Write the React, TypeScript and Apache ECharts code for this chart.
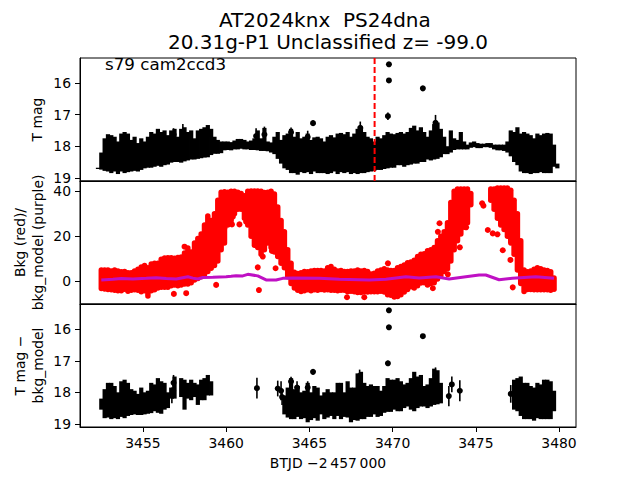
import React, { useEffect, useRef } from "react";
import * as echarts from "echarts";

const FONT = "'DejaVu Sans', sans-serif";

const titleText = "AT2024knx  PS24dna \n20.31g-P1 Unclassified z= -99.0";
const noteText = "s79 cam2ccd3";
const xTicks = [3455, 3460, 3465, 3470, 3475, 3480];
const magTicks = [16, 17, 18, 19];
const bkgTicks = [0, 20, 40];
const transientTime = 3468.92;

const times = [
  3452.3,3452.5,3452.7,3452.9,3453.1,3453.3,3453.5,3453.7,3453.9,3454.1,3454.3,3454.5,3454.7,3454.9,3455.1,3455.3,3455.5,3455.7,3455.9,3456.1,
  3456.3,3456.5,3456.7,3456.9,3457.1,3457.3,3457.5,3457.7,3457.9,3458.1,3458.3,3458.5,3458.7,3458.9,3459.1,3459.3,3459.5,3459.7,3459.9,3460.1,
  3460.3,3460.5,3460.7,3460.9,3461.1,3461.3,3461.5,3461.7,3461.9,3462.1,3462.3,3462.5,3462.7,3462.9,3463.1,3463.3,3463.5,3463.7,3463.9,3464.1,
  3464.3,3464.5,3464.7,3464.9,3465.1,3465.3,3465.5,3465.7,3465.9,3466.1,3466.3,3466.5,3466.7,3466.9,3467.1,3467.3,3467.5,3467.7,3467.9,3468.1,
  3468.3,3468.5,3468.7,3468.9,3469.1,3469.3,3469.5,3469.7,3469.9,3470.1,3470.3,3470.5,3470.7,3470.9,3471.1,3471.3,3471.5,3471.7,3471.9,3472.1,
  3472.3,3472.5,3472.7,3472.9,3473.1,3473.3,3473.5,3473.7,3473.9,3474.1,3474.3,3474.5,3474.7,3474.9,3475.1,3475.3,3475.5,3475.7,3475.9,3476.1,
  3476.3,3476.5,3476.7,3476.9,3477.1,3477.3,3477.5,3477.7,3477.9,3478.1,3478.3,3478.5,3478.7,3478.9,3479.1,3479.3,3479.5,3479.7,3479.9,
];

const rawBright = [
  18.68,18.2,17.75,17.62,17.65,17.7,17.85,17.6,17.55,17.6,17.8,17.7,17.9,17.75,17.85,17.7,17.55,17.6,17.45,17.55,
  17.5,17.65,17.5,17.45,17.7,17.45,17.4,17.55,17.5,17.75,17.5,17.45,17.4,17.33,17.45,17.7,17.8,17.85,17.85,17.85,
  17.87,17.82,17.77,17.77,17.8,17.85,17.82,17.75,17.5,17.75,17.42,17.85,17.88,17.7,17.55,17.8,17.65,17.6,17.45,17.7,
  17.55,17.75,17.7,17.6,17.8,17.72,17.7,17.75,17.85,17.7,17.65,17.72,17.6,17.58,17.62,17.55,17.7,17.6,17.45,17.4,
  17.55,17.7,17.75,17.85,17.7,17.75,17.65,17.55,17.6,17.62,17.58,17.55,17.6,17.55,17.42,17.35,17.5,17.4,17.55,17.7,
  17.5,17.3,17.25,17.45,17.7,18.0,17.5,17.75,17.8,17.55,17.85,17.95,17.88,17.85,17.9,17.92,17.92,17.9,17.9,17.95,
  17.95,17.95,17.95,17.85,17.5,17.55,17.4,17.6,17.55,17.6,17.65,17.75,17.6,17.65,17.6,17.58,17.6,17.95,18.55,
];
const rawFaint = [
  18.72,18.74,18.78,18.8,18.85,18.8,18.88,18.8,18.85,18.82,18.8,18.78,18.8,18.75,18.7,18.68,18.68,18.65,18.62,18.65,
  18.6,18.58,18.52,18.5,18.5,18.52,18.48,18.45,18.42,18.42,18.4,18.38,18.36,18.35,18.28,18.24,18.24,18.22,18.13,18.12,
  18.13,18.1,18.1,18.08,18.1,18.1,18.12,18.12,18.13,18.15,18.15,18.16,18.2,18.25,18.4,18.55,18.7,18.75,18.85,18.85,
  18.9,18.82,18.85,18.82,18.88,18.8,18.85,18.85,18.85,18.88,18.85,18.8,18.88,18.82,18.85,18.82,18.88,18.85,18.88,18.85,
  18.85,18.82,18.8,18.78,18.75,18.75,18.72,18.7,18.68,18.68,18.6,18.6,18.65,18.6,18.58,18.55,18.55,18.5,18.5,18.42,
  18.45,18.42,18.4,18.35,18.25,18.25,18.2,18.12,18.1,18.1,18.1,18.1,18.05,18.03,18.06,18.06,18.03,18.03,18.05,18.1,
  18.13,18.13,18.15,18.2,18.32,18.5,18.6,18.8,18.85,18.85,18.88,18.85,18.85,18.82,18.85,18.85,18.85,18.65,18.7,
];

const bkgHigh = [
  null,5,5,5,4.6,5,4.6,4.2,4.4,3.8,3.8,4.6,5.4,6.4,7,6,7.7,8,8,9.8,
  10.4,10.5,10.5,10.2,10.6,10.8,12.6,14.8,13,17,19,21,25,29,27,30,36,39.6,39.8,39.6,
  40,40,39.6,39,38,40,40.2,40.2,40.2,40,39.5,39.6,40,38.8,33,27,22,14,8,4,
  3.5,3.8,4.4,4.2,4.6,4.8,4.8,4.8,4.6,6,6.6,5.4,4.6,4.8,4.4,4.4,4.6,4.6,5,4.6,
  4.8,4.4,3.2,3.6,4.6,5,5.6,5,4.8,4.8,6,6.6,7.2,8.2,8.6,9.4,11,12,12.2,13.6,
  14,15,18,20,22,26,35,40,41,41,41,41,39,null,null,null,null,null,41,41,
  41.5,41.5,41.5,41.5,40.5,36,30,18,5,4.2,4.6,5.4,6,5.6,5,4.8,4.2,1.5,null,
];
const bkgLow = [
  null,-3.2,-3.4,-3.7,-3.8,-4,-4.2,-4.2,-3.5,-4.4,-4,-3.8,-4,-4.6,-4.2,-6.5,-4.2,-3.8,-3,-2.6,
  -2.6,-2.6,-2,-1.6,-2,-1.6,-1.2,-1.2,-0.6,0.6,1.2,2,3,4.4,5.8,7,9,14,17,25,
  27,30,32,32,28,25,20,16,15,12,14,17,15,13,11,8,6,2,-1,-3,
  -4,-4.5,-4.2,-3.8,-4.2,-3.8,-4,-3.6,-3.9,-3.8,-4,-4,-4.2,-4,-4,-4.6,-4.4,-4.6,-5,-5,
  -4.8,-4.8,-4.6,-4.6,-4.6,-4.4,-4.8,-6,-6.2,-7,-6.8,-6,-4.8,-3.6,-2.4,-3,-2,-0.8,-0.6,-1.6,
  -1,-0.6,1,2.6,4.4,5.6,9,14,18,21,24,26,34,null,null,null,null,null,36,32,
  28,25,23,20,17,12,5,-1,-4.5,-3.6,-3.6,-3.8,-3.8,-3.8,-3.8,-3.8,-4,-3.5,null,
];

const cleanBright = [
  null,18.2,17.9,17.7,17.7,17.8,18,17.65,17.6,17.7,17.9,17.95,18.05,17.85,18,17.95,17.7,17.75,17.55,17.65,
  17.7,18,17.85,17.5,null,17.55,17.6,17.7,17.6,17.7,17.75,17.6,17.55,17.45,17.65,null,null,null,null,null,
  null,null,null,null,null,null,null,null,null,null,null,null,null,null,null,null,18.1,17.85,17.55,17.9,
  17.8,18,17.95,17.7,18,17.8,17.85,18.1,18,17.9,18,18,17.7,17.7,18,17.65,17.85,17.85,17.4,17.35,
  17.7,17.8,17.75,17.8,17.8,17.95,17.8,17.55,17.6,17.6,17.55,17.65,17.75,17.7,17.55,17.35,17.5,17.45,17.8,17.75,
  17.55,17.25,17.3,17.7,null,null,null,null,null,null,null,null,null,null,null,null,null,null,null,null,
  null,null,null,null,null,17.6,17.55,17.5,17.7,17.7,17.8,17.85,17.7,17.75,17.6,17.6,17.65,17.95,null,
];
const cleanFaint = [
  null,18.55,18.82,18.8,18.85,18.82,18.85,18.78,18.82,18.75,18.72,18.7,18.72,18.72,18.7,18.68,18.66,18.6,18.65,18.68,
  18.55,18.5,18.2,18.2,null,18.15,18.55,18.2,18.25,18.15,18.4,18.25,18.25,18.1,18.1,null,null,null,null,null,
  null,null,null,null,null,null,null,null,null,null,null,null,null,null,null,null,18.7,18.8,18.85,18.85,
  18.78,18.85,18.82,18.95,18.88,18.82,18.9,18.7,18.85,18.8,18.75,18.85,18.75,18.85,18.78,18.8,18.95,18.88,18.9,18.85,
  18.85,18.78,18.78,18.7,18.78,18.75,18.65,18.62,18.62,18.55,18.6,18.6,18.5,18.45,18.55,18.6,18.5,18.45,18.45,18.5,
  18.45,18.4,18.38,18.35,null,null,null,null,null,null,null,null,null,null,null,null,null,null,null,null,
  null,null,null,null,null,18.55,18.6,18.75,18.85,18.85,18.85,18.9,18.82,18.85,18.85,18.85,18.85,18.6,null,
];

const rawDotT = [3469.78,3469.78,3469.72,3471.82,3465.22,3456.84,3462.3,3461.8,3463.9,3464.9,3458.9,3457.4,3468.06,3472.58];
const rawDotM = [15.41,15.92,17.05,16.17,17.27,17.63,17.63,17.68,17.56,17.71,17.6,17.55,17.42,17.26];
const rawDotE = [0.04,0.05,0.12,0.05,0.08,0.2,0.25,0.25,0.15,0.2,0.25,0.25,0.2,0.25];

const cleanDotT = [3469.78,3469.78,3469.72,3471.82,3465.22,3463.9,3464.26,3464.9,3468.02,3472.58,3461.85,3463.1,3463.3,3463.36,3473.38,3473.56,3474.04,3477.1,3456.84,3456.82,3456.74];
const cleanDotM = [15.4,15.94,17.08,16.22,17.35,17.66,17.85,17.85,17.48,17.46,17.87,17.88,17.95,18.15,18.12,17.75,17.95,18.05,17.7,17.95,18.1];
const cleanDotE = [0.04,0.05,0.08,0.05,0.09,0.15,0.2,0.2,0.2,0.25,0.33,0.25,0.3,0.25,0.32,0.25,0.33,0.28,0.25,0.25,0.25];

const bkgDotT = [3456.86,3457.6,3459.4,3461.97,3461.9,3462.97,3462.2,3462.5,3462.75,3460.35,3460.8,3459.9,3460.4,3461.2,3457.5,3467.26,3468.3,3469.72,3473.32,3472.42,3472.82,3472.72,3474.04,3474.42,3475.38,3475.46,3475.72,3476.02,3476.3,3476.62,3477.08,3477.22];
const bkgDotV = [-5.6,-5.3,-1.6,-3.9,6.2,5.8,11,17.6,13.5,25.3,25.3,23.8,28.7,26.5,15.4,-7.1,-7.1,8,3.1,-3.1,25.8,22,15.1,24,34.7,33.6,22.8,21.3,20.9,13.8,9.5,-2.7];

const modelT = [3452.5,3453.2,3453.7,3454.4,3455.2,3455.8,3456.4,3457,3457.7,3458,3458.3,3458.6,3459.2,3460,3460.3,3460.6,3461,3461.3,3461.9,3462.4,3463,3463.4,3464,3465.6,3466.8,3468.6,3469.6,3470.8,3471.6,3472.6,3473.4,3474.4,3475.2,3475.6,3476.4,3477.2,3478.6,3479.7];
const modelV = [0.6,0.9,1.2,1,1.3,1.6,1.2,1,2,1.4,1,1.7,1.8,2,2.2,2.5,2.4,3.1,2.4,0.6,0.6,1.3,1.5,1.4,0.9,0.6,0.9,2,1.5,2,1,2,2.8,2.8,0.7,1.3,2,1.3];

const BLACK = "#000000";
const RED = "#ff0000";
const PURPLE = "#bf10c4";

function bars(idx: number, ts: number[], hi: (number | null)[], lo: (number | null)[], color: string, width: number, cap: string, z: number) {
  const data: number[][] = [];
  ts.forEach((t, i) => {
    const a = hi[i];
    const b = lo[i];
    if (a != null && b != null) data.push([t, a, b]);
  });
  return {
    type: "custom",
    xAxisIndex: idx,
    yAxisIndex: idx,
    z,
    clip: true,
    silent: true,
    data,
    encode: { x: 0, y: [1, 2] },
    renderItem: (_p: any, api: any) => {
      const p1 = api.coord([api.value(0), api.value(1)]);
      const p2 = api.coord([api.value(0), api.value(2)]);
      return {
        type: "line",
        shape: { x1: p1[0], y1: p1[1], x2: p2[0], y2: p2[1] },
        style: { stroke: color, lineWidth: width, lineCap: cap },
      };
    },
  };
}

function dots(idx: number, ts: number[], vs: number[], color: string, size: number, z: number) {
  return {
    type: "scatter",
    xAxisIndex: idx,
    yAxisIndex: idx,
    z,
    silent: true,
    symbolSize: size,
    itemStyle: { color, opacity: 1 },
    data: ts.map((t, i) => [t, vs[i]]),
  };
}

function xAxis(idx: number, show: boolean) {
  return {
    type: "value",
    gridIndex: idx,
    min: 3451.22,
    max: 3481.02,
    splitLine: { show: false },
    axisLine: { show: true, onZero: false, lineStyle: { color: BLACK, width: 1 } },
    axisTick: { show, length: 5, lineStyle: { color: BLACK, width: 1 }, customValues: xTicks },
    axisLabel: {
      show,
      customValues: xTicks,
      color: BLACK,
      fontFamily: FONT,
      fontSize: 13.9,
      margin: 9,
      formatter: (v: number) => String(v),
    },
    name: show ? "BTJD \u22122\u2009457\u2009000" : "",
    nameLocation: "middle",
    nameGap: 29,
    nameMoveOverlap: false,
    nameTextStyle: { color: BLACK, fontFamily: FONT, fontSize: 13.9 },
  };
}

function yAxis(idx: number, min: number, max: number, inverse: boolean, ticks: number[], name: string, gap: number) {
  return {
    type: "value",
    gridIndex: idx,
    min,
    max,
    inverse,
    splitLine: { show: false },
    axisLine: { show: true, onZero: false, lineStyle: { color: BLACK, width: 1 } },
    axisTick: { show: true, length: 5, lineStyle: { color: BLACK, width: 1 }, customValues: ticks },
    axisLabel: {
      customValues: ticks,
      color: BLACK,
      fontFamily: FONT,
      fontSize: 13.9,
      margin: 9,
      formatter: (v: number) => String(v),
    },
    name,
    nameLocation: "middle",
    nameRotate: 90,
    nameGap: gap,
    nameMoveOverlap: false,
    nameTextStyle: { color: BLACK, fontFamily: FONT, fontSize: 13.9, lineHeight: 18, align: "center" },
  };
}

export default function App() {
  const ref = useRef<HTMLDivElement>(null);
  useEffect(() => {
    const chart = echarts.init(ref.current!, undefined, { renderer: "svg", width: 640, height: 480 });
    const gridBase = { left: 80, width: 496, height: 123, show: true, borderColor: BLACK, borderWidth: 1, backgroundColor: "#ffffff" };
    chart.setOption({
      animation: false,
      backgroundColor: "#ffffff",
      title: {
        text: titleText,
        left: 323,
        top: 4,
        textAlign: "center",
        textStyle: { color: BLACK, fontFamily: FONT, fontSize: 20, fontWeight: "normal", lineHeight: 22 },
      },
      grid: [
        { ...gridBase, top: 58 },
        { ...gridBase, top: 181 },
        { ...gridBase, top: 304 },
      ],
      xAxis: [xAxis(0, false), xAxis(1, false), xAxis(2, true)],
      yAxis: [
        yAxis(0, 15.21, 19.1, true, magTicks, "T mag", 34),
        yAxis(1, -10.1, 44.6, false, bkgTicks, "Bkg (red)/\nbkg_model (purple)", 33),
        yAxis(2, 15.2, 19.1, true, magTicks, "T mag \u2212\nbkg_model", 33),
      ],
      graphic: [
        {
          type: "text",
          x: 105,
          y: 55,
          z: 50,
          style: { text: noteText, fill: BLACK, font: `16.7px ${FONT}` },
        },
      ],
      series: [
        bars(0, times, rawBright, rawFaint, BLACK, 4.2, "butt", 2),
        bars(0, rawDotT, rawDotM.map((m, i) => m - rawDotE[i]), rawDotM.map((m, i) => m + rawDotE[i]), BLACK, 1.6, "butt", 3),
        dots(0, rawDotT, rawDotM, BLACK, 6, 3),
        {
          type: "line",
          xAxisIndex: 0,
          yAxisIndex: 0,
          z: 4,
          silent: true,
          symbol: "none",
          lineStyle: { color: RED, width: 2, type: [6, 3] },
          data: [[transientTime, 15.21], [transientTime, 19.1]],
        },
        bars(1, times, bkgHigh, bkgLow, RED, 5.5, "round", 2),
        dots(1, bkgDotT, bkgDotV, RED, 6, 2),
        {
          type: "line",
          xAxisIndex: 1,
          yAxisIndex: 1,
          z: 4,
          silent: true,
          symbol: "none",
          lineStyle: { color: PURPLE, width: 3 },
          data: modelT.map((t, i) => [t, modelV[i]]),
        },
        bars(2, times, cleanBright, cleanFaint, BLACK, 4.2, "butt", 2),
        bars(2, cleanDotT, cleanDotM.map((m, i) => m - cleanDotE[i]), cleanDotM.map((m, i) => m + cleanDotE[i]), BLACK, 1.6, "butt", 3),
        dots(2, cleanDotT, cleanDotM, BLACK, 6, 3),
      ],
    });
    return () => chart.dispose();
  }, []);
  return <div ref={ref} style={{ position: "absolute", left: 0, top: 0, width: 640, height: 480 }} />;
}
